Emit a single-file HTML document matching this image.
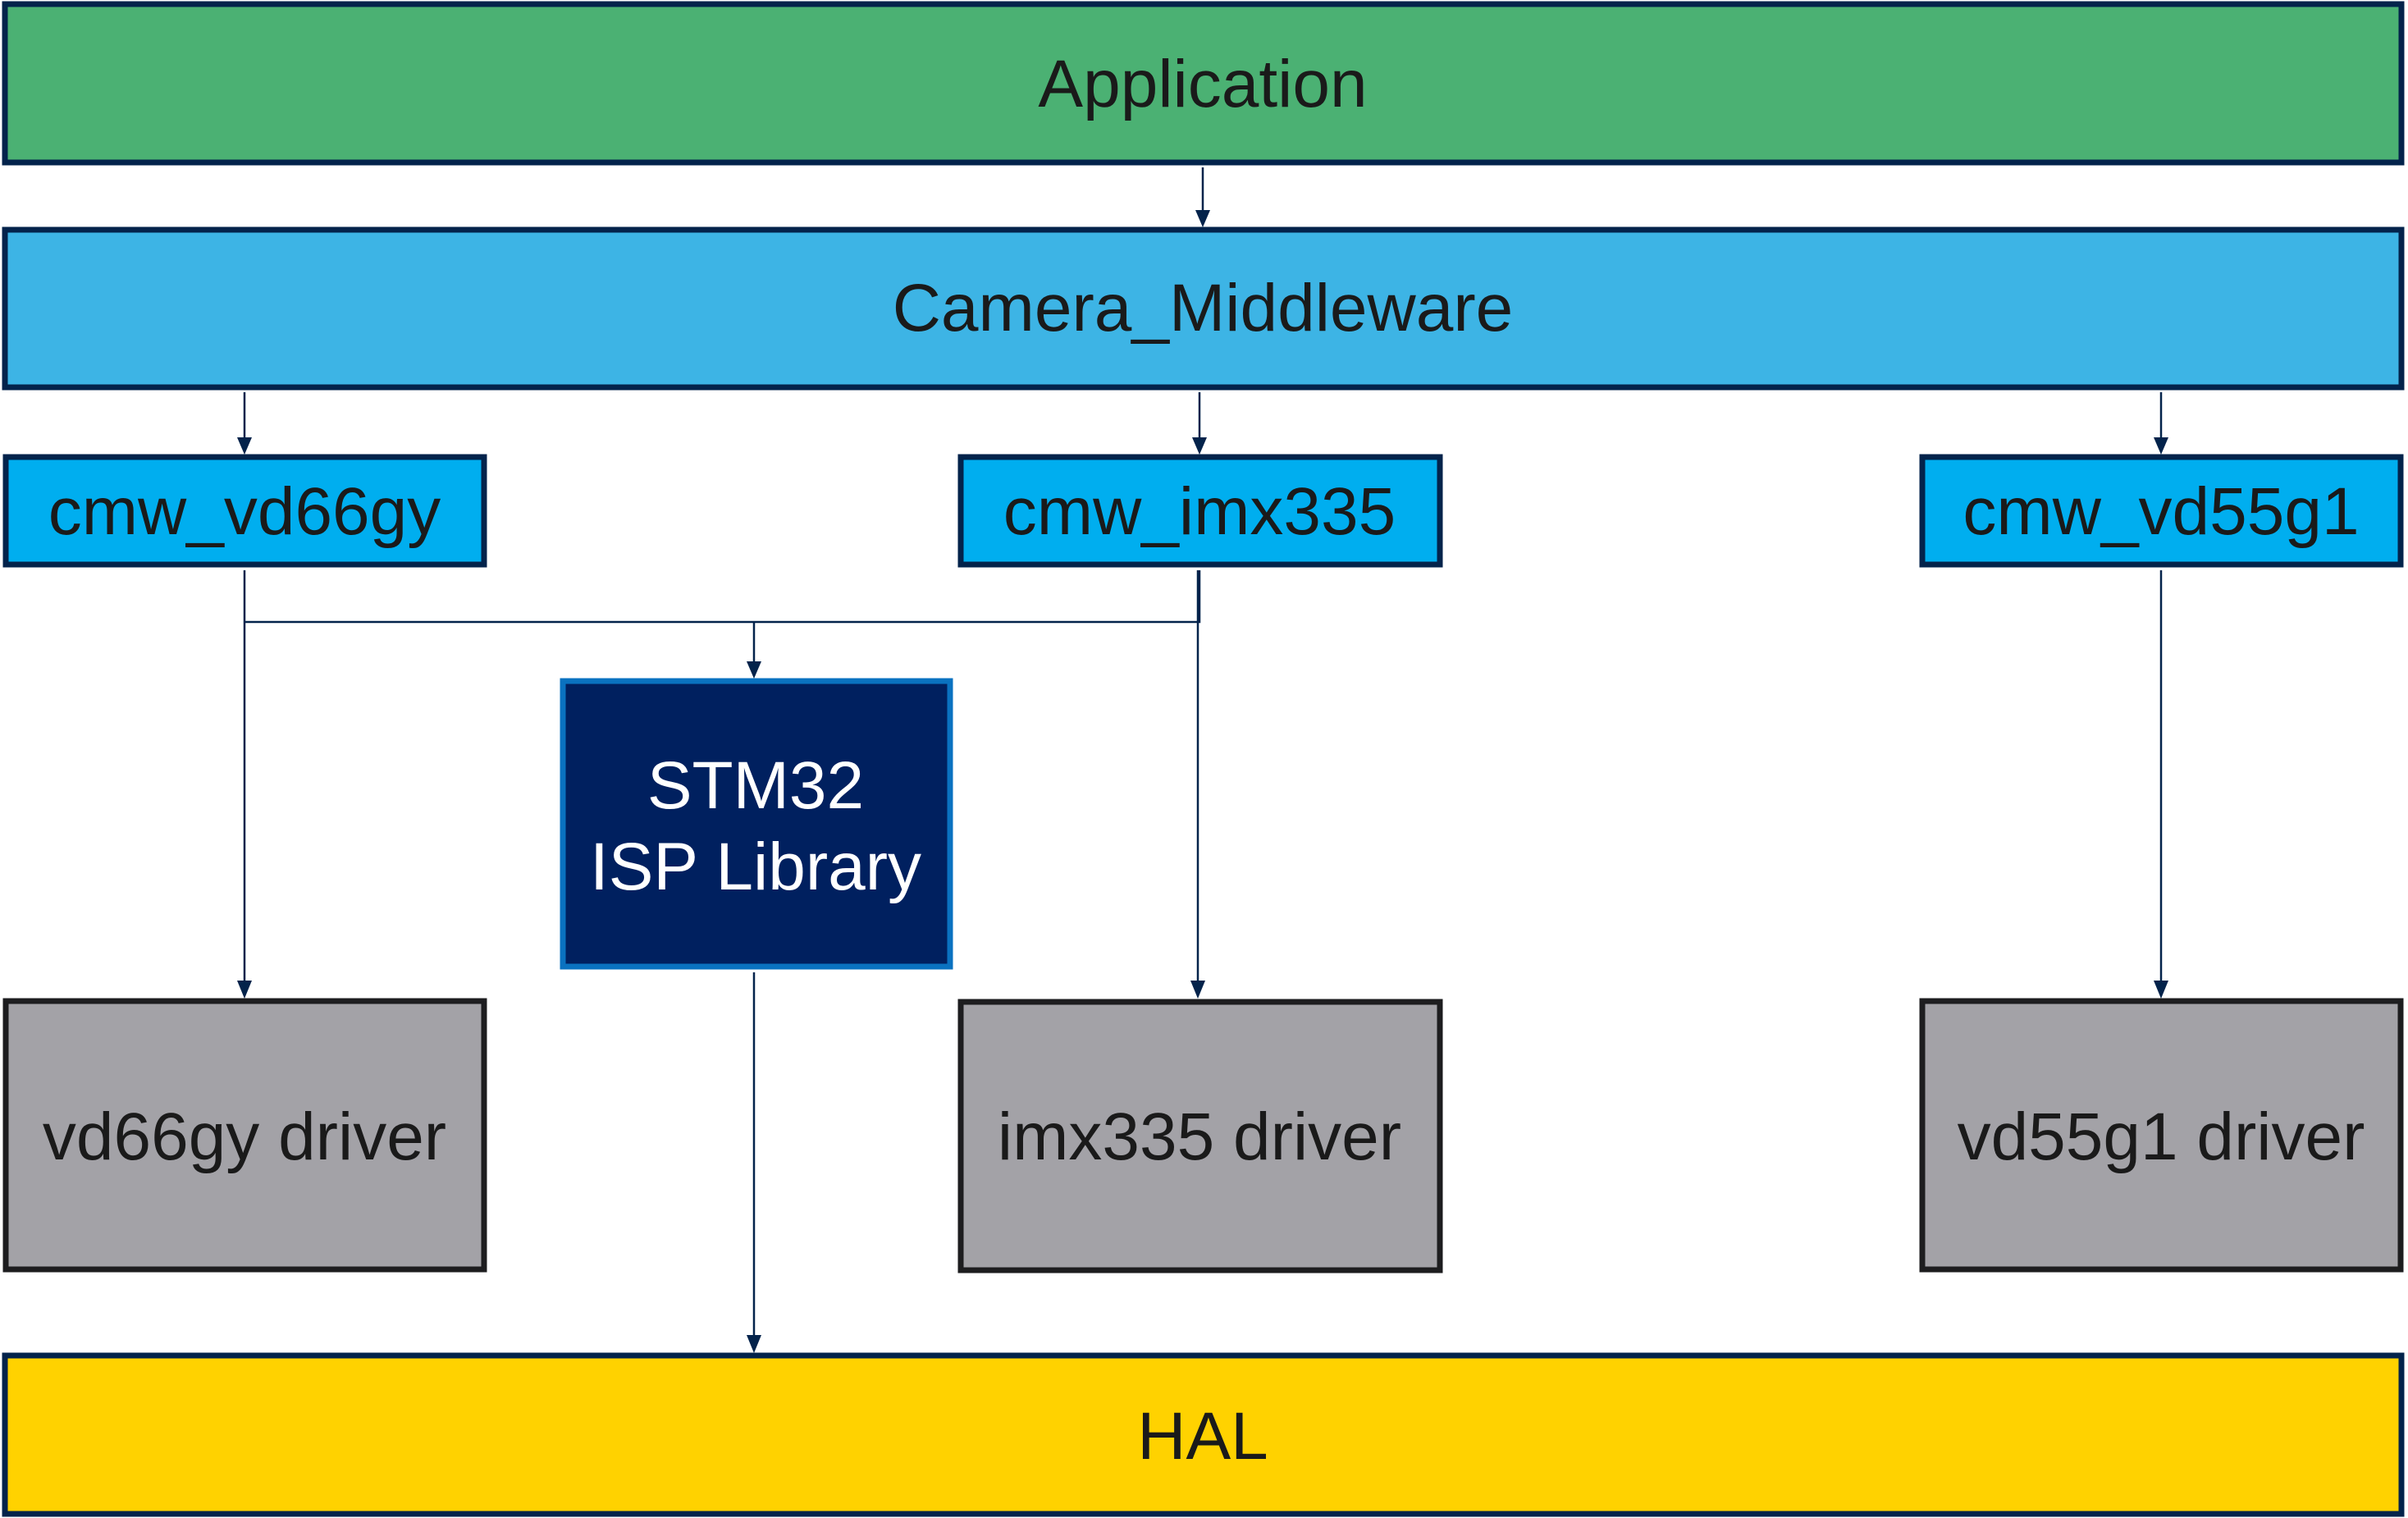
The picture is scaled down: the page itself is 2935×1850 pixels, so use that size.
<!DOCTYPE html>
<html><head><meta charset="utf-8"><style>html,body{margin:0;padding:0;background:#fff}svg{display:block}</style></head><body>
<svg width="2935" height="1850" viewBox="0 0 2935 1850" xmlns="http://www.w3.org/2000/svg" font-family="Liberation Sans, Arial, sans-serif">
<g fill="none" stroke="#03234b" stroke-width="2.5">
<line x1="1466" y1="204" x2="1466" y2="260"/>
<line x1="298" y1="478" x2="298" y2="536"/>
<line x1="1462" y1="478" x2="1462" y2="536"/>
<line x1="2634" y1="478" x2="2634" y2="536"/>
<line x1="298" y1="695" x2="298" y2="1198"/>
<line x1="1460" y1="695" x2="1460" y2="1198"/>
<line x1="2634" y1="695" x2="2634" y2="1198"/>
<polyline points="298,758 1462,758 1462,695"/>
<line x1="919" y1="758" x2="919" y2="808"/>
<line x1="919" y1="1185" x2="919" y2="1630"/>
</g>
<g fill="#03234b">
<path d="M1457,256 L1475,256 L1466,277 Z"/>
<path d="M289,533 L307,533 L298,554 Z"/>
<path d="M1453,533 L1471,533 L1462,554 Z"/>
<path d="M2625,533 L2643,533 L2634,554 Z"/>
<path d="M289,1195 L307,1195 L298,1217 Z"/>
<path d="M1451,1195 L1469,1195 L1460,1217 Z"/>
<path d="M2625,1195 L2643,1195 L2634,1217 Z"/>
<path d="M910,806 L928,806 L919,827 Z"/>
<path d="M910,1627 L928,1627 L919,1649 Z"/>
</g>
<g stroke-width="7">
<rect x="6" y="5" width="2921" height="193" fill="#4bb173" stroke="#03234b"/>
<rect x="6" y="280" width="2921" height="192" fill="#3db4e5" stroke="#03234b"/>
<rect x="7" y="557" width="583" height="131" fill="#00aeef" stroke="#03234b"/>
<rect x="1171" y="557" width="584" height="131" fill="#00aeef" stroke="#03234b"/>
<rect x="2343" y="557" width="583" height="131" fill="#00aeef" stroke="#03234b"/>
<rect x="686" y="830" width="472" height="348" fill="#00205f" stroke="#0a72c0"/>
<rect x="7" y="1220" width="583" height="327" fill="#a3a2a7" stroke="#1d1d1f"/>
<rect x="1171" y="1221" width="584" height="327" fill="#a3a2a7" stroke="#1d1d1f"/>
<rect x="2343" y="1220" width="583" height="327" fill="#a3a2a7" stroke="#1d1d1f"/>
<rect x="6" y="1652" width="2921" height="193" fill="#ffd200" stroke="#03234b"/>
</g>
<g fill="#1a1a1a" text-anchor="middle" font-size="82">
<text x="1466" y="130">Application</text>
<text x="1466" y="403">Camera_Middleware</text>
<text x="298" y="651" font-size="82">cmw_vd66gy</text>
<text x="1462" y="651" font-size="82">cmw_imx335</text>
<text x="2634" y="651" font-size="82">cmw_vd55g1</text>
<text x="298" y="1413">vd66gy driver</text>
<text x="1462" y="1413">imx335 driver</text>
<text x="2634" y="1413">vd55g1 driver</text>
<text x="1466" y="1778">HAL</text>
<text x="921" y="985" fill="#fff" font-size="82">STM32</text>
<text x="921" y="1084" fill="#fff" font-size="82">ISP Library</text>
</g>
</svg>
</body></html>
